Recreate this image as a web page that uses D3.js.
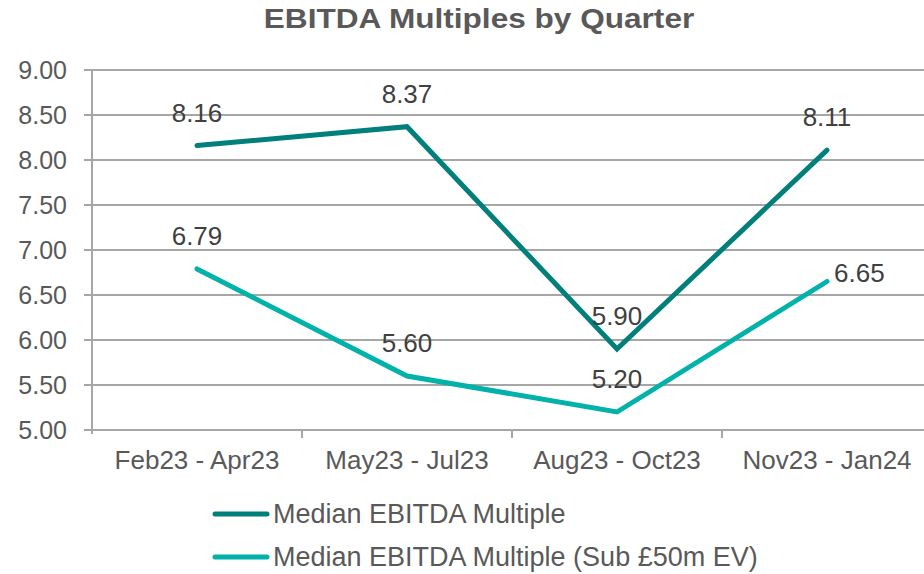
<!DOCTYPE html>
<html>
<head>
<meta charset="utf-8">
<script src="https://cdn.jsdelivr.net/npm/d3@7"></script>
<style>
  body { margin: 0; background: #fff; }
  #chart { width: 924px; height: 574px; overflow: hidden; }
  text { font-family: "Liberation Sans", Arial, sans-serif; }
</style>
</head>
<body>
<div id="chart"></div>
<script>
// dane wykresu
const categories = ["Feb23 - Apr23", "May23 - Jul23", "Aug23 - Oct23", "Nov23 - Jan24"];
const medianAll = [8.16, 8.37, 5.90, 8.11];
const medianSub50 = [6.79, 5.60, 5.20, 6.65];
const yTicks = [5.0, 5.5, 6.0, 6.5, 7.0, 7.5, 8.0, 8.5, 9.0];
const seriesNames = ["Median EBITDA Multiple", "Median EBITDA Multiple (Sub £50m EV)"];
const labelPos = [
  ["top", "top", "top", "top"],
  ["top", "top", "top", "right"]
];

const series = [
  { name: seriesNames[0], values: medianAll, color: "#007f7b", pos: labelPos[0] },
  { name: seriesNames[1], values: medianSub50, color: "#00b2a9", pos: labelPos[1] }
];

const W = 924, H = 574;
const margin = { top: 70, left: 92 };
const plotW = 840, plotH = 360;
const font = "Liberation Sans, Arial, sans-serif";

const svg = d3.select("#chart").append("svg")
  .attr("width", W)
  .attr("height", H);

// tytuł (w oryginale jest trochę rozciągnięty w poziomie)
svg.append("text")
  .attr("transform", "translate(479,28) scale(1.17,1)")
  .attr("text-anchor", "middle")
  .style("font-size", "27px")
  .style("font-weight", "bold")
  .style("fill", "#595959")
  .text("EBITDA Multiples by Quarter");

const g = svg.append("g").attr("transform", `translate(${margin.left},${margin.top})`);

const x = d3.scaleBand().domain(categories).range([0, plotW]);
const y = d3.scaleLinear().domain([5, 9]).range([plotH, 0]);

// siatka pozioma
g.append("g")
  .selectAll("line")
  .data(yTicks)
  .join("line")
  .attr("x1", -8)
  .attr("x2", plotW)
  .attr("y1", d => y(d))
  .attr("y2", d => y(d))
  .attr("stroke", "#a6a6a6")
  .attr("stroke-width", 2);

// oś Y
const yAxis = g.append("g")
  .call(d3.axisLeft(y).tickValues(yTicks).tickFormat(d3.format(".2f")).tickSize(0).tickPadding(25));
yAxis.select(".domain").remove();
yAxis.selectAll("text")
  .style("font-size", "25px")
  .style("fill", "#595959")
  .style("font-family", font);

g.append("line")
  .attr("x1", 0).attr("x2", 0)
  .attr("y1", 0).attr("y2", plotH + 4)
  .attr("stroke", "#a6a6a6")
  .attr("stroke-width", 2);

// oś X
const xAxis = g.append("g")
  .attr("transform", `translate(0,${plotH})`)
  .call(d3.axisBottom(x).tickSize(0).tickPadding(21));
xAxis.select(".domain").remove();
xAxis.selectAll("text")
  .style("font-size", "26px")
  .style("fill", "#595959")
  .style("font-family", font);

// znaczniki między kategoriami
g.append("g")
  .selectAll("line")
  .data(categories.slice(1))
  .join("line")
  .attr("x1", d => x(d)).attr("x2", d => x(d))
  .attr("y1", plotH).attr("y2", plotH + 8)
  .attr("stroke", "#a6a6a6")
  .attr("stroke-width", 2);

const cx = i => x(categories[i]) + x.bandwidth() / 2;

const line = d3.line()
  .x((d, i) => cx(i))
  .y(d => y(d));

series.forEach(s => {
  g.append("path")
    .datum(s.values)
    .attr("d", line)
    .attr("fill", "none")
    .attr("stroke", s.color)
    .attr("stroke-width", 5)
    .attr("stroke-linecap", "round")
    .attr("stroke-linejoin", "miter");
});

// etykiety danych
series.forEach(s => {
  s.values.forEach((v, i) => {
    const right = s.pos[i] === "right";
    g.append("text")
      .attr("x", right ? cx(i) + 7 : cx(i))
      .attr("y", right ? y(v) : y(v) - 24)
      .attr("text-anchor", right ? "start" : "middle")
      .style("font-size", "26px")
      .style("fill", "#404040")
      .text(v.toFixed(2));
  });
});

// legenda
const legend = svg.append("g");
series.forEach((s, i) => {
  const ly = 514 + i * 43;
  legend.append("line")
    .attr("x1", 215).attr("x2", 267)
    .attr("y1", ly).attr("y2", ly)
    .attr("stroke", s.color)
    .attr("stroke-width", 5)
    .attr("stroke-linecap", "round");
  legend.append("text")
    .attr("x", 273)
    .attr("y", ly + 9)
    .style("font-size", "27px")
    .style("fill", "#595959")
    .text(s.name);
});
</script>
</body>
</html>
